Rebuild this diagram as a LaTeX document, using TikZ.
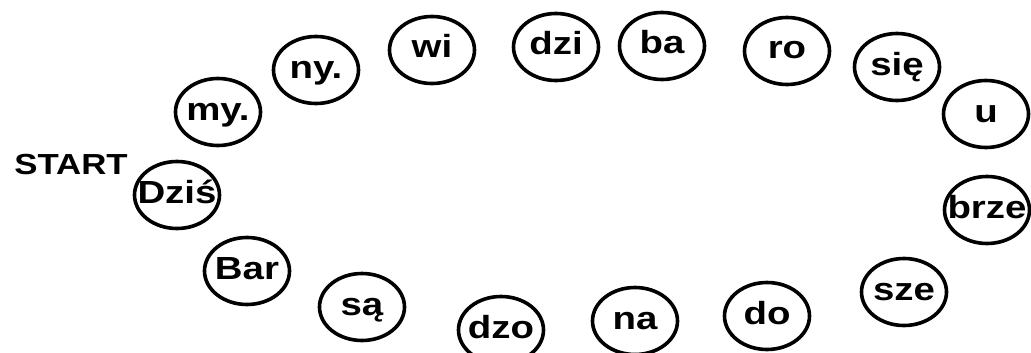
\documentclass[tikz,border=0pt]{standalone}
\usepackage{fontspec}
\usetikzlibrary{shapes.geometric}
\newfontfamily\sylfont[FakeStretch=1.2]{Liberation Sans}
\newcommand\sy[1]{\makebox[0pt]{#1}}
\tikzset{
  syl/.style={ellipse, draw, line width=3.6pt, minimum width=85pt, minimum height=67pt,
    inner sep=0pt, text height=18pt, text depth=2pt,
    font=\sylfont\bfseries\fontsize{32}{32}\selectfont},
  lbl/.style={inner sep=0pt, font=\sylfont\bfseries\fontsize{29}{29}\selectfont}
}
\begin{document}
\begin{tikzpicture}[x=1pt, y=-1pt]
\useasboundingbox (0,0) rectangle (1031,353);
\node[lbl, anchor=base] (start) at (71,174) {START};
\node[syl] (s01) at (177,195) {\sy{Dziś}};
\node[syl] (s02) at (218,112) {\sy{my.}};
\node[syl] (s03) at (316,70)  {\sy{ny.}};
\node[syl] (s04) at (432,50)  {\sy{wi}};
\node[syl] (s05) at (556,47)  {\sy{dzi}};
\node[syl] (s06) at (662,46)  {\sy{ba}};
\node[syl] (s07) at (787,51)  {\sy{ro}};
\node[syl] (s08) at (897,67)  {\sy{się}};
\node[syl] (s09) at (986,114) {\sy{u}};
\node[syl] (s10) at (987,210) {\sy{brze}};
\node[syl] (s11) at (904,292) {\sy{sze}};
\node[syl] (s12) at (767,316) {\sy{do}};
\node[syl] (s13) at (635,321) {\sy{na}};
\node[syl] (s14) at (501,330) {\sy{dzo}};
\node[syl] (s15) at (362,307) {\sy{są}};
\node[syl] (s16) at (247,271) {\sy{Bar}};
\end{tikzpicture}
\end{document}
